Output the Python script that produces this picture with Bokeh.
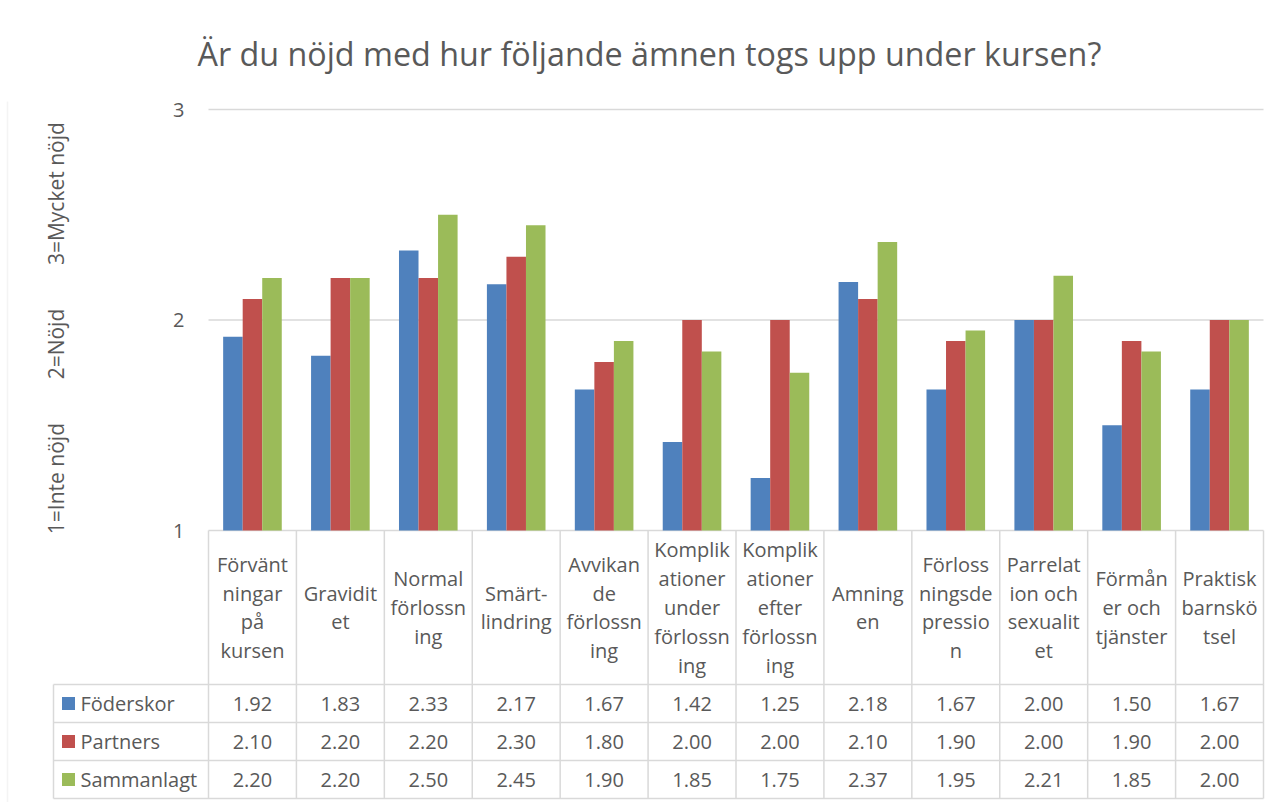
from bokeh.plotting import figure
from bokeh.models import Range1d, FixedTicker, ColumnDataSource, LinearAxis, BoxAnnotation
from bokeh.core.properties import value
from bokeh.embed import file_html
from bokeh.resources import INLINE

# ---------------- data ----------------
title_text = "Är du nöjd med hur följande ämnen togs upp under kursen?"
y_axis_title = ("1=Inte nöjd" + "\u00a0" * 8 + "2=Nöjd" + "\u00a0" * 8
                + "3=Mycket nöjd" + "\u00a0" * 3)
categories = [
    "Förvänt\nningar\npå\nkursen",
    "Gravidit\net",
    "Normal\nförlossn\ning",
    "Smärt-\nlindring",
    "Avvikan\nde\nförlossn\ning",
    "Komplik\nationer\nunder\nförlossn\ning",
    "Komplik\nationer\nefter\nförlossn\ning",
    "Amning\nen",
    "Förloss\nningsde\npressio\nn",
    "Parrelat\nion och\nsexualit\net",
    "Förmån\ner och\ntjänster",
    "Praktisk\nbarnskö\ntsel",
]
series_names = ["Föderskor", "Partners", "Sammanlagt"]
foderskor = [1.92, 1.83, 2.33, 2.17, 1.67, 1.42, 1.25, 2.18, 1.67, 2.00, 1.50, 1.67]
partners = [2.10, 2.20, 2.20, 2.30, 1.80, 2.00, 2.00, 2.10, 1.90, 2.00, 1.90, 2.00]
sammanlagt = [2.20, 2.20, 2.50, 2.45, 1.90, 1.85, 1.75, 2.37, 1.95, 2.21, 1.85, 2.00]
series_values = [foderskor, partners, sammanlagt]
colors = ["#4F81BD", "#C0504D", "#9BBB59"]
y_ticks = [1, 2, 3]

# ---------------- layout constants (pixels) ----------------
FONT = "Open Sans"
TXT = "#595959"
LINE = "#d9d9d9"
W, H = 1283, 802
TOP = 101                      # frame top (title above)
N = len(categories)
PLOT_L, PLOT_R = 208, 1263     # plot area in px
PX = (PLOT_R - PLOT_L) / N     # px per category
Y3, Y1 = 109, 530              # px of value 3 and value 1
PY = (Y1 - Y3) / 2.0           # px per value unit
TB = 798                       # table bottom px
RH = 38.0                      # table row height px
HDR_TOP = 530
ROW_TOP = 684

x0 = -PLOT_L / PX
x1 = (W - PLOT_L) / PX
y_hi = 3 + (Y3 - TOP) / PY
y_lo = 1 - (H - Y1) / PY
t_hi = (TB - TOP) / RH
t_lo = -(H - TB) / RH

p = figure(width=W, height=H, x_range=Range1d(x0, x1), y_range=Range1d(y_lo, y_hi),
           x_axis_location=None, y_axis_location=None, toolbar_location=None,
           output_backend="svg", min_border_left=0, min_border_right=0,
           min_border_top=TOP, min_border_bottom=0, outline_line_color=None,
           background_fill_color="white", border_fill_color="white")
p.grid.visible = False
p.extra_y_ranges = {"table": Range1d(t_lo, t_hi)}

p.title.text = title_text
p.title.text_font = FONT
p.title.text_font_size = "32.3px"
p.title.text_font_style = "normal"
p.title.text_color = TXT
p.title.align = "left"
p.title.offset = 197
p.title.standoff = 54

# outer chart border (left/top edges visible in the picture)
p.add_layout(BoxAnnotation(left=(7 - PLOT_L) / PX, right=x1 + 1,
                           top=3 + (Y3 - 9) / PY, bottom=y_lo - 1,
                           fill_color=None, fill_alpha=0,
                           line_color=LINE, line_width=1.5))

ax = LinearAxis(fixed_location=0, bounds=(1, 3), ticker=FixedTicker(ticks=y_ticks))
ax.axis_line_color = None
ax.major_tick_line_color = None
ax.major_tick_out = 0
ax.minor_tick_line_color = None
ax.major_label_text_font = FONT
ax.major_label_text_font_size = "20px"
ax.major_label_text_color = TXT
ax.major_label_standoff = 24
ax.axis_label = y_axis_title
ax.axis_label_text_font = FONT
ax.axis_label_text_font_size = "21px"
ax.axis_label_text_font_style = "normal"
ax.axis_label_text_color = TXT
ax.axis_label_standoff = 100
p.add_layout(ax, "left")

# gridlines (value axis) across the plot area
p.segment(x0=[0] * len(y_ticks), y0=y_ticks, x1=[N] * len(y_ticks), y1=y_ticks,
          line_color=LINE, line_width=1.3)

# bars
group = 1 / 1.5
bw = group / 3
offsets = [-bw, 0.0, bw]
for vals, col, off in zip(series_values, colors, offsets):
    src = ColumnDataSource(dict(x=[i + 0.5 + off for i in range(N)], top=vals))
    p.vbar(x="x", top="top", bottom=1, width=bw, source=src,
           fill_color=col, line_color=None)

# ---------------- data table ----------------
nrows = len(series_names)
hdr_hi = (TB - HDR_TOP) / RH
XL = (53 - PLOT_L) / PX
bounds = list(range(N + 1))
p.segment(x0=bounds, y0=[0] * len(bounds), x1=bounds, y1=[hdr_hi] * len(bounds),
          line_color=LINE, line_width=1.5, y_range_name="table")
p.segment(x0=[XL], y0=[0], x1=[XL], y1=[nrows], line_color=LINE, line_width=1.5,
          y_range_name="table")
hy = list(range(nrows + 1))
p.segment(x0=[XL] * len(hy), y0=hy, x1=[N] * len(hy), y1=hy,
          line_color=LINE, line_width=1.5, y_range_name="table")

hdr_y = (TB - (HDR_TOP + ROW_TOP) / 2) / RH
p.text(x=[i + 0.5 for i in range(N)], y=[hdr_y] * N, text=categories,
       text_font=value(FONT), text_font_size="20px", text_color=TXT,
       text_align="center", text_baseline="middle", text_line_height=1.065,
       y_range_name="table")

tx, ty, tt = [], [], []
for r, vals in enumerate(series_values):
    for i, v in enumerate(vals):
        tx.append(i + 0.5)
        ty.append(nrows - r - 0.5)
        tt.append(f"{v:.2f}")
p.text(x=tx, y=ty, text=tt, text_font=value(FONT), text_font_size="20px",
       text_color=TXT, text_align="center", text_baseline="middle",
       y_range_name="table")

XSQ = (68 - PLOT_L) / PX
XLT = (80 - PLOT_L) / PX
ly = [nrows - r - 0.5 for r in range(nrows)]
p.rect(x=[XSQ] * nrows, y=ly, width=13, height=13, width_units="screen",
       height_units="screen", fill_color=colors, line_color=None,
       y_range_name="table")
p.text(x=[XLT] * nrows, y=ly, text=series_names, text_font=value(FONT),
       text_font_size="20px", text_color=TXT, text_align="left",
       text_baseline="middle", y_range_name="table")

open("out.html", "w").write(file_html(p, INLINE))
